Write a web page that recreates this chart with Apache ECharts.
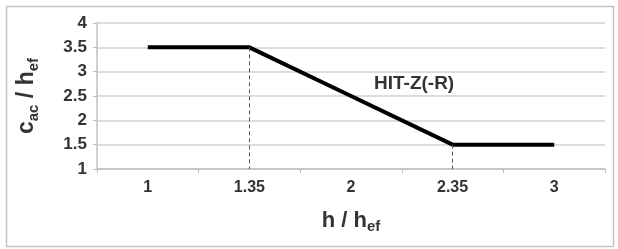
<!DOCTYPE html>
<html>
<head>
<meta charset="utf-8">
<script src="https://cdn.jsdelivr.net/npm/echarts@6/dist/echarts.min.js"></script>
<style>
html, body { margin: 0; padding: 0; background: #fff; }
#chart { width: 618px; height: 249px; }
</style>
</head>
<body>
<div id="chart"></div>
<script>
var categories = ['1', '1.35', '2', '2.35', '3'];
var ratio = [3.5, 3.5, 2.5, 1.5, 1.5];
var yTicks = [1, 4, 0.5];   // min, max, step
var dropLines = [['1.35', 3.5], ['2.35', 1.5]];

var font = 'Arial, "Liberation Sans", sans-serif';
var txt = '#333';

var chart = echarts.init(document.getElementById('chart'));

// 虚线：从折点垂到x轴
var markData = dropLines.map(function(p) {
    return [{ coord: [p[0], p[1]] }, { coord: [p[0], yTicks[0]] }];
});

chart.setOption({
    animation: false,
    grid: {
        left: 97,
        right: 13,
        top: 23,
        bottom: 80
    },
    graphic: [{
        type: 'rect',
        shape: { x: 6.5, y: 6.5, width: 607, height: 240 },
        style: { fill: 'none', stroke: '#c4c4c4', lineWidth: 1.5 },
        silent: true
    }, {
        type: 'text',
        left: 374,
        top: 74,
        style: {
            text: 'HIT-Z(-R)',
            fontFamily: font,
            fontWeight: 700,
            fontSize: 19,
            fill: txt
        }
    }],
    xAxis: {
        type: 'category',
        data: categories,
        boundaryGap: true,
        name: 'h / h{s|ef}',
        nameLocation: 'middle',
        nameGap: 38,
        nameTextStyle: {
            fontFamily: font,
            fontWeight: 700,
            fontSize: 22,
            color: txt,
            rich: {
                s: { fontFamily: font, fontWeight: 700, fontSize: 15, color: txt, padding: [12, 0, 0, 0] }
            }
        },
        axisLine: { lineStyle: { color: '#c0c0c0', width: 1.5 } },
        axisTick: { show: true, length: 4, lineStyle: { color: '#c0c0c0' } },
        axisLabel: {
            fontFamily: font,
            fontWeight: 700,
            fontSize: 16,
            color: txt,
            margin: 11
        }
    },
    yAxis: {
        type: 'value',
        min: yTicks[0],
        max: yTicks[1],
        interval: yTicks[2],
        name: 'c{s|ac} / h{s|ef}',
        nameLocation: 'middle',
        nameGap: 56,
        nameRotate: 90,
        nameTextStyle: {
            fontFamily: font,
            fontWeight: 700,
            fontSize: 23,
            color: txt,
            rich: {
                s: { fontFamily: font, fontWeight: 700, fontSize: 15, color: txt, padding: [14, 0, 0, 0] }
            }
        },
        axisLine: { show: true, lineStyle: { color: '#c0c0c0', width: 1.5 } },
        axisTick: { show: true, length: 4, lineStyle: { color: '#c0c0c0' } },
        splitLine: { lineStyle: { color: '#d0d0d0', width: 1.5 } },
        axisLabel: {
            fontFamily: font,
            fontWeight: 700,
            fontSize: 17,
            color: txt,
            margin: 10
        }
    },
    series: [{
        type: 'line',
        data: ratio,
        symbol: 'none',
        lineStyle: { color: '#000', width: 4 },
        markLine: {
            silent: true,
            symbol: 'none',
            label: { show: false },
            lineStyle: { color: '#555', type: [4, 3], width: 1 },
            data: markData
        }
    }]
});
</script>
</body>
</html>
